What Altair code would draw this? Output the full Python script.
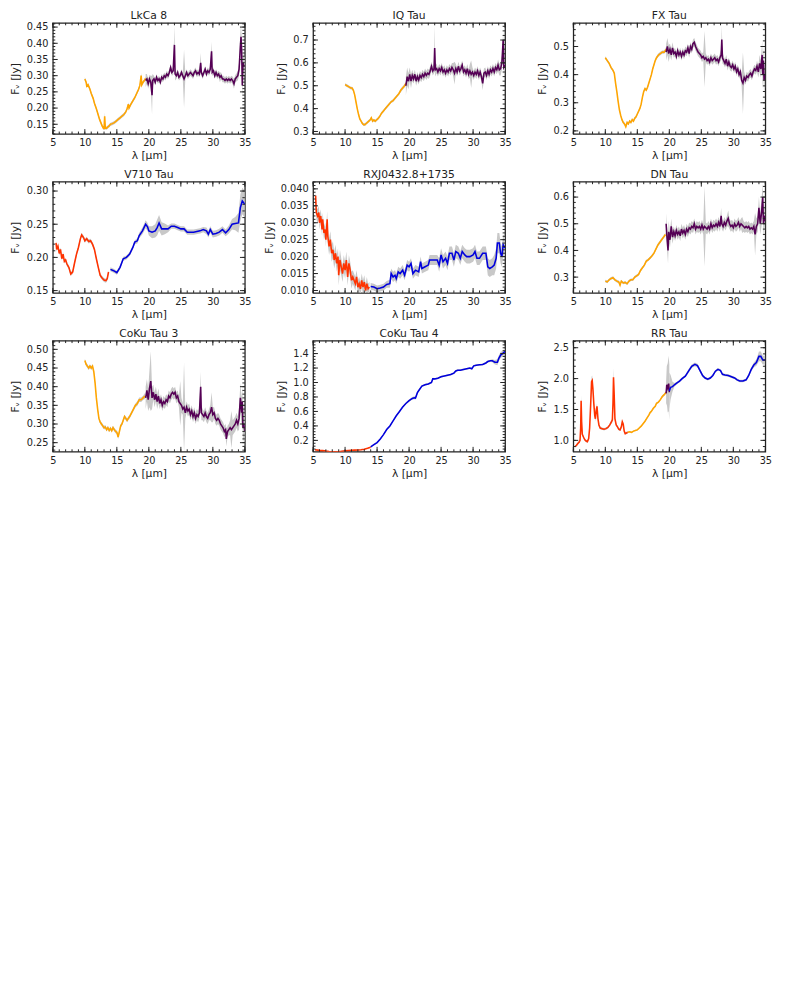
import altair as alt
import numpy as np
import pandas as pd

# ---------------- data: (wavelength um, flux Jy, 1-sigma) ----------------
LKCA8_SL1 = [(10.0,.290,.005),(10.2,.280,.005),(10.3,.268,.005),(10.5,.272,.005),(10.8,.258,.005),(11.0,.245,.005),
    (11.3,.230,.005),(11.5,.215,.005),(11.8,.198,.005),(12.0,.185,.005),(12.3,.165,.005),(12.5,.155,.005),(12.7,.145,.005),
    (12.9,.138,.005),(13.0,.137,.005),(13.1,.175,.012),(13.2,.138,.005),(13.4,.138,.005),(13.6,.142,.005),(13.8,.145,.005),
    (14.0,.150,.005),(14.3,.152,.005),(14.6,.155,.005),(14.9,.160,.005),(15.2,.165,.005),(15.5,.170,.005),(15.8,.175,.005),
    (16.1,.180,.005),(16.4,.188,.005),(16.6,.198,.005),(16.8,.212,.005),(16.9,.200,.005),(17.2,.212,.005),(17.5,.222,.005),
    (17.8,.232,.005),(18.1,.245,.005),(18.4,.258,.005),(18.6,.270,.005),(18.8,.300,.008),(18.9,.272,.005),(19.1,.280,.005),
    (19.3,.285,.005),(19.5,.292,.005)]
LKCA8_LH = [(19.5,.285,.02),(19.7,.290,.015),(19.9,.275,.015),(20.1,.290,.012),(20.3,.280,.02),(20.5,.240,.06),(20.6,.285,.02),
    (20.8,.290,.01),(21.0,.280,.01),(21.2,.295,.01),(21.4,.285,.01),(21.6,.290,.01),(21.8,.280,.01),(22.0,.295,.01),
    (22.2,.290,.01),(22.4,.300,.01),(22.6,.295,.01),(22.8,.305,.01),(23.0,.300,.01),(23.2,.310,.01),(23.4,.325,.012),
    (23.6,.310,.01),(23.8,.315,.012),(24.0,.395,.06),(24.1,.305,.02),(24.3,.300,.01),(24.5,.310,.01),(24.7,.295,.01),
    (24.9,.300,.01),(25.1,.310,.01),(25.3,.300,.01),(25.5,.290,.09),(25.7,.300,.01),(25.9,.310,.01),(26.1,.300,.01),
    (26.3,.305,.01),(26.5,.310,.01),(26.7,.305,.01),(26.9,.300,.01),(27.1,.310,.01),(27.3,.315,.01),(27.5,.305,.01),
    (27.7,.310,.01),(27.9,.305,.01),(28.1,.340,.03),(28.2,.310,.01),(28.4,.300,.01),(28.6,.310,.01),(28.8,.320,.01),
    (29.0,.305,.01),(29.2,.315,.01),(29.4,.310,.01),(29.6,.320,.012),(29.8,.375,.03),(29.9,.310,.012),(30.1,.315,.01),
    (30.3,.300,.01),(30.5,.310,.01),(30.7,.300,.01),(30.9,.305,.01),(31.1,.295,.015),(31.3,.300,.01),(31.5,.290,.01),
    (31.7,.290,.01),(31.9,.285,.01),(32.1,.290,.01),(32.3,.285,.01),(32.5,.290,.01),(32.7,.285,.01),(32.9,.290,.01),
    (33.1,.285,.012),(33.3,.275,.015),(33.5,.290,.012),(33.7,.295,.012),(33.9,.300,.015),(34.1,.320,.02),(34.3,.390,.04),
    (34.4,.420,.04),(34.5,.380,.04),(34.6,.270,.04),(34.7,.340,.03),(34.85,.330,.03),(35.0,.330,.03)]

IQ_SL1 = [(10.0,.505,.006),(10.3,.500,.006),(10.6,.495,.006),(10.9,.490,.006),(11.1,.490,.006),(11.3,.480,.006),(11.5,.460,.006),
    (11.7,.430,.006),(11.9,.400,.006),(12.1,.375,.006),(12.3,.355,.006),(12.5,.345,.006),(12.7,.335,.006),(12.9,.330,.006),
    (13.1,.330,.006),(13.3,.335,.006),(13.5,.340,.006),(13.7,.345,.006),(13.9,.350,.006),(14.1,.360,.006),(14.3,.345,.006),
    (14.5,.350,.006),(14.7,.345,.006),(14.9,.350,.006),(15.1,.355,.006),(15.4,.365,.006),(15.7,.380,.006),(16.0,.390,.006),
    (16.3,.400,.006),(16.6,.410,.006),(16.9,.420,.006),(17.2,.430,.006),(17.5,.435,.006),(17.8,.445,.006),(18.1,.455,.006),
    (18.4,.465,.006),(18.7,.480,.008),(19.0,.490,.008),(19.3,.500,.008),(19.5,.510,.008)]
IQ_LH = [(19.5,.500,.04),(19.7,.540,.04),(19.9,.520,.035),(20.1,.550,.03),(20.3,.520,.03),(20.5,.545,.025),(20.7,.530,.02),
    (20.9,.550,.02),(21.1,.520,.02),(21.3,.540,.02),(21.5,.525,.02),(21.7,.545,.02),(21.9,.535,.02),(22.1,.550,.02),
    (22.3,.540,.02),(22.5,.555,.02),(22.7,.545,.02),(22.9,.555,.02),(23.1,.550,.02),(23.3,.565,.02),(23.5,.585,.02),
    (23.7,.565,.02),(23.9,.575,.02),(24.0,.665,.1),(24.1,.570,.03),(24.3,.575,.02),(24.5,.560,.02),(24.7,.575,.02),
    (24.9,.565,.02),(25.1,.580,.02),(25.3,.560,.02),(25.5,.570,.02),(25.7,.555,.02),(25.9,.570,.02),(26.1,.560,.02),
    (26.3,.575,.02),(26.5,.565,.02),(26.7,.580,.02),(26.9,.570,.03),(27.1,.555,.05),(27.3,.575,.02),(27.5,.560,.02),
    (27.7,.585,.02),(27.9,.565,.02),(28.1,.575,.02),(28.3,.590,.02),(28.5,.560,.02),(28.7,.570,.02),(28.9,.555,.02),
    (29.1,.575,.02),(29.3,.550,.02),(29.5,.565,.03),(29.7,.550,.06),(29.9,.560,.02),(30.1,.545,.02),(30.3,.560,.02),
    (30.5,.550,.02),(30.7,.565,.02),(30.9,.545,.02),(31.1,.560,.02),(31.3,.540,.02),(31.5,.510,.03),(31.7,.555,.02),
    (31.9,.560,.02),(32.1,.545,.02),(32.3,.565,.02),(32.5,.550,.02),(32.7,.570,.02),(32.9,.560,.02),(33.1,.575,.02),
    (33.3,.560,.02),(33.5,.580,.02),(33.7,.570,.02),(33.9,.590,.025),(34.1,.570,.025),(34.3,.575,.03),(34.5,.600,.03),
    (34.7,.700,.04),(34.8,.580,.03),(35.0,.590,.03)]

FX_SL1 = [(10.0,.460,.005),(10.3,.450,.005),(10.6,.440,.005),(10.9,.425,.005),(11.2,.415,.005),(11.4,.405,.005),(11.6,.370,.005),
    (11.8,.340,.005),(12.0,.305,.005),(12.2,.275,.005),(12.4,.255,.005),(12.6,.240,.005),(12.8,.230,.005),(13.0,.225,.005),
    (13.2,.215,.005),(13.4,.230,.005),(13.6,.225,.005),(13.8,.235,.005),(14.0,.230,.005),(14.2,.240,.005),(14.4,.235,.005),
    (14.6,.245,.005),(14.8,.250,.005),(15.0,.260,.005),(15.2,.270,.005),(15.4,.280,.005),(15.6,.295,.005),(15.8,.320,.005),
    (16.0,.340,.005),(16.2,.350,.005),(16.4,.345,.005),(16.6,.355,.005),(16.8,.370,.005),(17.0,.385,.005),(17.2,.400,.005),
    (17.4,.420,.005),(17.6,.435,.005),(17.8,.450,.005),(18.0,.460,.005),(18.3,.470,.006),(18.6,.475,.006),(18.9,.480,.006),
    (19.2,.480,.006),(19.5,.490,.008)]
FX_LH = [(19.5,.480,.03),(19.7,.500,.03),(19.9,.475,.03),(20.1,.490,.02),(20.3,.470,.02),(20.5,.495,.02),(20.7,.475,.015),
    (20.9,.480,.015),(21.1,.465,.015),(21.3,.485,.015),(21.5,.470,.015),(21.7,.480,.015),(21.9,.465,.015),(22.1,.480,.015),
    (22.3,.470,.015),(22.5,.485,.015),(22.7,.480,.015),(22.9,.495,.015),(23.1,.475,.015),(23.3,.500,.015),(23.5,.490,.015),
    (23.7,.510,.015),(23.9,.515,.015),(24.1,.500,.015),(24.3,.490,.015),(24.5,.480,.015),(24.7,.475,.015),(24.9,.470,.015),
    (25.1,.460,.015),(25.3,.465,.015),(25.5,.455,.1),(25.7,.460,.015),(25.9,.450,.015),(26.1,.455,.015),(26.3,.445,.015),
    (26.5,.460,.015),(26.7,.450,.015),(26.9,.455,.015),(27.1,.460,.015),(27.3,.450,.015),(27.5,.455,.015),(27.7,.445,.015),
    (27.9,.460,.015),(28.1,.470,.02),(28.2,.525,.05),(28.3,.460,.02),(28.5,.450,.015),(28.7,.440,.015),(28.9,.455,.015),
    (29.1,.430,.015),(29.3,.445,.015),(29.5,.430,.015),(29.7,.425,.015),(29.9,.435,.015),(30.1,.420,.015),(30.3,.430,.015),
    (30.5,.410,.015),(30.7,.420,.015),(30.9,.400,.015),(31.1,.410,.015),(31.3,.380,.02),(31.5,.370,.11),(31.7,.390,.02),
    (31.9,.380,.015),(32.1,.395,.015),(32.3,.390,.015),(32.5,.400,.015),(32.7,.405,.015),(32.9,.395,.015),(33.1,.410,.015),
    (33.3,.420,.015),(33.5,.415,.015),(33.7,.430,.02),(33.9,.410,.02),(34.1,.440,.03),(34.3,.420,.03),(34.5,.470,.05),
    (34.6,.400,.05),(34.7,.450,.05),(34.8,.380,.05),(34.9,.400,.04),(35.0,.390,.04)]

V710_SL2 = [(5.5,.222,.003),(5.6,.212,.003),(5.8,.217,.003),(6.0,.206,.003),(6.2,.212,.003),(6.4,.198,.003),(6.6,.205,.003),
    (6.8,.194,.003),(7.0,.196,.003),(7.2,.190,.003),(7.5,.185,.003),(7.8,.175,.003),(8.1,.178,.003),(8.4,.192,.003),
    (8.7,.205,.003),(9.0,.215,.003),(9.3,.228,.003),(9.5,.234,.003),(9.8,.230,.003),(10.0,.225,.003),(10.3,.228,.003),
    (10.6,.224,.003),(10.9,.225,.003),(11.2,.220,.003),(11.5,.212,.003),(11.8,.198,.003),(12.1,.185,.003),(12.4,.173,.003),
    (12.7,.169,.003),(13.0,.166,.003),(13.3,.165,.003),(13.5,.168,.003),(13.7,.178,.003)]
V710_LL = [(14.0,.182,.003),(14.5,.180,.003),(15.0,.177,.003),(15.5,.185,.003),(16.0,.198,.003),(16.5,.200,.003),(17.0,.205,.003),
    (17.5,.215,.003),(17.8,.223,.003),(18.2,.225,.004),(18.5,.233,.004),(19.0,.240,.005),(19.5,.250,.006),(19.8,.246,.006),
    (20.0,.240,.007),(20.5,.238,.009),(21.0,.240,.01),(21.3,.245,.012),(21.6,.252,.012),(22.0,.243,.01),(22.5,.243,.008),
    (23.0,.243,.005),(23.5,.247,.004),(24.0,.247,.004),(24.5,.245,.004),(25.0,.243,.004),(25.5,.243,.004),(26.0,.238,.004),
    (27.0,.238,.004),(28.0,.240,.004),(28.5,.242,.004),(29.0,.240,.005),(29.3,.235,.005),(29.6,.242,.005),(30.0,.235,.005),
    (30.5,.236,.005),(31.0,.238,.005),(31.5,.242,.005),(32.0,.237,.005),(32.5,.242,.006),(33.0,.250,.008),(33.5,.251,.01),
    (34.0,.252,.015),(34.3,.275,.02),(34.6,.285,.02),(35.0,.280,.02)]

RXJ_SL2 = [(5.4,.0380,.002),(5.5,.0330,.002),(5.7,.0320,.002),(5.9,.0330,.002),(6.0,.0300,.002),(6.2,.0320,.002),(6.4,.0280,.002),
    (6.5,.0310,.002),(6.7,.0270,.002),(6.9,.0280,.002),(7.0,.0250,.002),(7.2,.0310,.0025),(7.3,.0260,.0025),(7.5,.0230,.0025),
    (7.7,.0250,.0025),(7.9,.0210,.0025),(8.1,.0220,.0025),(8.3,.0190,.0025),(8.5,.0210,.0025),(8.7,.0180,.0025),
    (8.9,.0200,.0025),(9.0,.0145,.003),(9.2,.0190,.003),(9.4,.0170,.0025),(9.6,.0150,.0025),(9.8,.0180,.0025),
    (10.0,.0160,.0025),(10.2,.0190,.0025),(10.4,.0140,.0025),(10.6,.0180,.0025),(10.8,.0160,.0025),(11.0,.0130,.0025),
    (11.2,.0140,.002),(11.4,.0130,.002),(11.6,.0120,.002),(11.8,.0140,.002),(12.0,.0110,.002),(12.2,.0120,.002),
    (12.4,.0105,.002),(12.6,.0130,.002),(12.8,.0110,.002),(13.0,.0125,.002),(13.2,.0100,.002),(13.4,.0120,.002),
    (13.6,.0105,.0015),(13.8,.0110,.0015)]
RXJ_LL = [(14.0,.0112,.001),(14.5,.0110,.001),(15.0,.0105,.001),(15.5,.0107,.001),(16.0,.0110,.001),(16.5,.0118,.001),
    (17.0,.0120,.0012),(17.2,.0150,.0015),(17.5,.0140,.0015),(17.8,.0145,.0015),(18.0,.0135,.0015),(18.3,.0155,.0015),
    (18.6,.0150,.0015),(19.0,.0160,.0015),(19.3,.0145,.0015),(19.7,.0175,.0015),(20.0,.0170,.0015),(20.3,.0180,.0015),
    (20.6,.0150,.0015),(21.0,.0160,.0015),(21.5,.0155,.0015),(21.8,.0185,.0015),(22.0,.0165,.0015),(22.5,.0170,.0015),
    (23.0,.0175,.0015),(23.2,.0190,.0015),(23.6,.0190,.0015),(24.0,.0190,.0015),(24.4,.0190,.0015),(24.7,.0175,.002),
    (25.0,.0205,.002),(25.3,.0185,.002),(25.7,.0195,.002),(26.0,.0180,.002),(26.3,.0210,.002),(26.7,.0210,.002),
    (27.0,.0190,.002),(27.3,.0215,.002),(27.7,.0210,.002),(28.0,.0195,.002),(28.3,.0215,.002),(28.7,.0205,.002),
    (29.0,.0200,.002),(29.5,.0200,.002),(30.0,.0205,.002),(30.3,.0215,.002),(30.6,.0195,.002),(31.0,.0195,.002),
    (31.5,.0210,.002),(32.0,.0210,.002),(32.3,.0170,.0025),(32.6,.0165,.0025),(33.0,.0170,.0025),(33.3,.0175,.003),
    (33.6,.0195,.003),(33.8,.0240,.003),(34.1,.0240,.003),(34.3,.0210,.003),(34.5,.0200,.003),(34.7,.0235,.003),
    (35.0,.0225,.003)]

DN_SL1 = [(10.0,.285,.005),(10.3,.282,.005),(10.6,.290,.005),(10.9,.295,.005),(11.2,.298,.005),(11.5,.290,.005),(11.8,.285,.005),
    (12.1,.282,.005),(12.3,.270,.005),(12.5,.285,.005),(12.8,.278,.005),(13.1,.280,.005),(13.4,.275,.005),(13.7,.285,.005),
    (14.0,.290,.005),(14.3,.290,.005),(14.6,.300,.005),(14.9,.305,.005),(15.2,.310,.005),(15.5,.325,.005),(15.8,.335,.005),
    (16.1,.345,.005),(16.4,.360,.005),(16.7,.365,.005),(17.0,.372,.005),(17.3,.380,.005),(17.6,.390,.005),(17.9,.405,.005),
    (18.2,.420,.006),(18.5,.430,.006),(18.8,.440,.006),(19.1,.450,.006),(19.4,.460,.006)]
DN_LH = [(19.5,.500,.04),(19.6,.460,.04),(19.8,.400,.05),(19.9,.470,.04),(20.1,.440,.03),(20.3,.490,.03),(20.5,.450,.025),
    (20.7,.470,.02),(20.9,.455,.02),(21.1,.475,.02),(21.3,.460,.02),(21.5,.470,.02),(21.7,.455,.02),(21.9,.480,.02),
    (22.1,.465,.02),(22.3,.475,.02),(22.5,.460,.02),(22.7,.480,.02),(22.9,.470,.02),(23.1,.485,.02),(23.3,.480,.02),
    (23.5,.490,.02),(23.7,.485,.02),(23.9,.500,.02),(24.1,.480,.02),(24.3,.490,.02),(24.5,.485,.02),(24.7,.490,.02),
    (24.9,.480,.02),(25.1,.495,.02),(25.3,.480,.02),(25.5,.490,.15),(25.7,.485,.02),(25.9,.480,.02),(26.1,.490,.02),
    (26.3,.480,.02),(26.5,.500,.02),(26.7,.485,.02),(26.9,.495,.02),(27.1,.490,.02),(27.3,.500,.02),(27.5,.490,.02),
    (27.7,.505,.02),(27.9,.490,.02),(28.1,.530,.03),(28.2,.500,.02),(28.4,.490,.02),(28.6,.505,.02),(28.8,.495,.02),
    (29.0,.510,.02),(29.2,.520,.03),(29.4,.500,.02),(29.6,.490,.02),(29.8,.495,.02),(30.0,.485,.02),(30.2,.500,.02),
    (30.4,.490,.02),(30.6,.495,.02),(30.8,.505,.02),(31.0,.490,.02),(31.2,.500,.02),(31.4,.495,.03),(31.6,.490,.02),
    (31.8,.485,.02),(32.0,.490,.02),(32.2,.485,.02),(32.4,.490,.02),(32.6,.480,.02),(32.8,.485,.02),(33.0,.480,.02),
    (33.2,.490,.02),(33.4,.460,.08),(33.6,.490,.03),(33.8,.500,.03),(34.0,.560,.04),(34.2,.500,.04),(34.4,.540,.05),
    (34.6,.600,.05),(34.7,.500,.05),(34.85,.530,.04),(35.0,.510,.04)]

COKU3_SL1 = [(10.0,.470,.005),(10.2,.460,.005),(10.4,.455,.005),(10.6,.450,.005),(10.8,.455,.005),(11.0,.450,.005),(11.2,.455,.005),
    (11.4,.440,.005),(11.6,.410,.005),(11.8,.370,.005),(12.0,.340,.005),(12.2,.315,.005),(12.4,.305,.005),(12.6,.300,.005),
    (12.8,.295,.005),(13.0,.290,.005),(13.2,.292,.005),(13.4,.285,.005),(13.6,.290,.005),(13.8,.283,.005),(14.0,.288,.005),
    (14.2,.282,.005),(14.4,.290,.005),(14.6,.285,.005),(14.8,.280,.005),(15.0,.278,.005),(15.2,.265,.005),(15.4,.280,.005),
    (15.6,.295,.005),(15.8,.300,.005),(16.0,.310,.005),(16.2,.320,.005),(16.4,.315,.005),(16.6,.310,.005),(16.8,.315,.005),
    (17.0,.320,.005),(17.3,.330,.005),(17.6,.340,.005),(17.9,.350,.005),(18.2,.355,.006),(18.5,.365,.006),(18.8,.365,.006),
    (19.1,.370,.006),(19.4,.375,.008)]
COKU3_LH = [(19.5,.370,.03),(19.7,.390,.03),(19.9,.365,.03),(20.1,.395,.05),(20.3,.415,.08),(20.5,.370,.03),(20.7,.385,.02),
    (20.9,.365,.02),(21.1,.380,.02),(21.3,.360,.02),(21.5,.375,.02),(21.7,.355,.015),(21.9,.365,.015),(22.1,.350,.015),
    (22.3,.360,.015),(22.5,.355,.015),(22.7,.365,.015),(22.9,.360,.015),(23.1,.375,.015),(23.3,.370,.015),(23.5,.380,.015),
    (23.7,.385,.015),(23.9,.380,.015),(24.1,.385,.015),(24.3,.370,.015),(24.5,.375,.015),(24.7,.360,.015),(24.9,.355,.06),
    (25.1,.350,.02),(25.3,.340,.015),(25.5,.345,.12),(25.7,.330,.015),(25.9,.345,.015),(26.1,.335,.015),(26.3,.340,.015),
    (26.5,.325,.015),(26.7,.335,.015),(26.9,.320,.015),(27.1,.330,.015),(27.3,.315,.015),(27.5,.325,.015),(27.7,.320,.015),
    (27.9,.330,.015),(28.1,.400,.04),(28.2,.330,.02),(28.4,.325,.015),(28.6,.320,.015),(28.8,.330,.015),(29.0,.320,.015),
    (29.2,.315,.015),(29.4,.325,.015),(29.6,.330,.02),(29.8,.345,.04),(30.0,.325,.02),(30.2,.330,.015),(30.4,.315,.015),
    (30.6,.310,.015),(30.8,.315,.015),(31.0,.310,.015),(31.2,.300,.015),(31.4,.295,.015),(31.6,.290,.015),(31.8,.280,.015),
    (32.0,.285,.015),(32.1,.260,.02),(32.3,.280,.015),(32.5,.285,.015),(32.7,.290,.02),(32.9,.285,.05),(33.1,.290,.02),
    (33.3,.295,.02),(33.5,.300,.02),(33.7,.310,.02),(33.9,.300,.02),(34.1,.315,.03),(34.3,.370,.04),(34.5,.330,.04),
    (34.6,.360,.04),(34.7,.290,.04),(34.85,.300,.04),(35.0,.280,.04)]

COKU4_SL2 = [(5.3,.070,.005),(6.0,.062,.005),(6.5,.058,.005),(7.0,.052,.005),(7.5,.047,.005),(8.0,.043,.005),(8.5,.042,.005),
    (9.0,.044,.005),(9.5,.050,.005),(10.0,.056,.005),(10.5,.060,.005),(11.0,.063,.005),(11.5,.065,.005),(12.0,.066,.005),
    (12.5,.070,.005),(13.0,.078,.005),(13.5,.090,.005),(14.0,.105,.005)]
COKU4_LL = [(14.0,.110,.01),(14.5,.140,.01),(15.0,.170,.01),(15.5,.220,.01),(16.0,.280,.01),(16.5,.350,.01),(17.0,.400,.01),
    (17.5,.470,.01),(18.0,.540,.01),(18.5,.600,.01),(19.0,.660,.012),(19.5,.710,.012),(20.0,.750,.015),(20.5,.780,.02),
    (20.8,.790,.02),(21.0,.785,.02),(21.3,.860,.02),(21.6,.900,.015),(22.0,.950,.012),(22.5,.970,.012),(23.0,.980,.012),
    (23.5,1.000,.015),(23.7,1.050,.015),(24.0,1.050,.012),(24.5,1.060,.012),(25.0,1.080,.012),(25.5,1.090,.012),
    (26.0,1.100,.012),(26.5,1.110,.012),(27.0,1.130,.012),(27.3,1.160,.012),(27.6,1.170,.012),(28.0,1.170,.012),
    (28.5,1.180,.012),(29.0,1.190,.012),(29.5,1.200,.012),(29.8,1.190,.012),(30.1,1.230,.012),(30.5,1.240,.012),
    (31.0,1.245,.012),(31.5,1.250,.012),(32.0,1.270,.015),(32.3,1.290,.015),(32.7,1.300,.015),(33.0,1.300,.02),
    (33.4,1.280,.03),(33.8,1.280,.04),(34.0,1.330,.04),(34.3,1.380,.04),(34.6,1.400,.04),(35.0,1.430,.04)]

RR_SL2 = [(5.3,.90,.02),(5.5,.92,.02),(5.7,.95,.02),(5.9,.97,.02),(6.05,1.00,.03),(6.15,1.20,.05),(6.22,1.64,.1),(6.3,1.30,.05),
    (6.4,1.10,.03),(6.6,1.05,.02),(6.8,1.01,.02),(7.0,.99,.02),(7.2,.98,.02),(7.4,1.03,.02),(7.55,1.20,.04),(7.7,1.55,.06),
    (7.85,1.95,.08),(7.95,1.97,.08),(8.05,1.85,.06),(8.2,1.60,.05),(8.35,1.40,.04),(8.45,1.35,.04),(8.6,1.50,.05),(8.7,1.55,.05),
    (8.85,1.35,.04),(9.0,1.25,.03),(9.2,1.20,.02),(9.5,1.19,.02),(9.8,1.18,.02),(10.1,1.19,.02),(10.4,1.21,.02),(10.7,1.25,.02),
    (10.95,1.30,.03),(11.1,1.33,.04),(11.2,1.60,.1),(11.28,2.02,.15),(11.38,1.75,.1),(11.5,1.35,.04),(11.7,1.25,.02),
    (11.9,1.22,.02),(12.1,1.18,.02),(12.3,1.17,.02),(12.5,1.22,.03),(12.65,1.30,.03),(12.8,1.26,.03),(12.95,1.15,.02),
    (13.1,1.11,.02),(13.3,1.12,.02),(13.5,1.13,.02)]
RR_SL1 = [(13.5,1.13,.01),(13.8,1.14,.01),(14.1,1.13,.01),(14.4,1.15,.01),(14.7,1.16,.01),(15.0,1.17,.01),(15.3,1.20,.01),
    (15.6,1.23,.01),(15.9,1.27,.01),(16.2,1.31,.015),(16.5,1.36,.015),(16.8,1.41,.015),(17.0,1.45,.015),(17.2,1.47,.015),
    (17.5,1.52,.015),(17.8,1.55,.015),(18.0,1.60,.015),(18.3,1.62,.015),(18.6,1.66,.015),(18.9,1.71,.02),(19.2,1.74,.02),
    (19.5,1.78,.02)]
RR_LH = [(19.5,1.76,.2),(19.6,1.90,.3),(19.75,1.85,.4),(19.9,1.92,.45),(20.0,1.78,.45)]
RR_LL = [(20.0,1.80,.3),(20.2,1.86,.2),(20.5,1.87,.08),(20.8,1.90,.03),(21.2,1.93,.02),(21.6,1.96,.02),(22.0,2.00,.02),
    (22.5,2.04,.02),(23.0,2.12,.03),(23.5,2.20,.03),(24.0,2.23,.03),(24.4,2.21,.03),(24.8,2.13,.03),(25.2,2.05,.03),
    (25.6,2.01,.02),(26.0,1.99,.02),(26.4,2.01,.02),(26.8,2.05,.02),(27.2,2.12,.02),(27.6,2.15,.02),(28.0,2.13,.02),
    (28.3,2.07,.02),(28.7,2.06,.02),(29.2,2.05,.02),(29.7,2.03,.02),(30.2,2.01,.02),(30.6,1.98,.02),(31.0,1.96,.02),
    (31.5,1.96,.02),(32.0,1.98,.02),(32.4,2.05,.03),(32.8,2.15,.03),(33.2,2.22,.04),(33.6,2.26,.05),(34.0,2.36,.08),
    (34.3,2.36,.08),(34.6,2.30,.07),(35.0,2.30,.07)]

NAMES = ["LkCa 8", "IQ Tau", "FX Tau", "V710 Tau", "RXJ0432.8+1735", "DN Tau", "CoKu Tau 3", "CoKu Tau 4", "RR Tau"]
SEGMENTS = [
    [("SL1", LKCA8_SL1), ("LH", LKCA8_LH)],
    [("SL1", IQ_SL1), ("LH", IQ_LH)],
    [("SL1", FX_SL1), ("LH", FX_LH)],
    [("SL2", V710_SL2), ("LL", V710_LL)],
    [("SL2", RXJ_SL2), ("LL", RXJ_LL)],
    [("SL1", DN_SL1), ("LH", DN_LH)],
    [("SL1", COKU3_SL1), ("LH", COKU3_LH)],
    [("SL2", COKU4_SL2), ("LL", COKU4_LL)],
    [("SL2", RR_SL2), ("SL1", RR_SL1), ("LH", RR_LH), ("LL", RR_LL)],
]
Y_DOMAINS = [[0.120, 0.463], [0.289, 0.775], [0.189, 0.584], [0.1466, 0.314], [0.0093, 0.0421],
             [0.241, 0.6575], [0.2257, 0.5234], [0.043, 1.579], [0.816, 2.615]]
Y_TICKS = [[0.15, 0.20, 0.25, 0.30, 0.35, 0.40, 0.45], [0.3, 0.4, 0.5, 0.6, 0.7], [0.2, 0.3, 0.4, 0.5],
           [0.15, 0.20, 0.25, 0.30], [0.010, 0.015, 0.020, 0.025, 0.030, 0.035, 0.040], [0.3, 0.4, 0.5, 0.6],
           [0.25, 0.30, 0.35, 0.40, 0.45, 0.50], [0.2, 0.4, 0.6, 0.8, 1.0, 1.2, 1.4], [1.0, 1.5, 2.0, 2.5]]
Y_MINOR_STEP = [0.01, 0.02, 0.02, 0.01, 0.001, 0.02, 0.01, 0.04, 0.1]
Y_FORMAT = [".2f", ".1f", ".1f", ".2f", ".3f", ".1f", ".2f", ".1f", ".1f"]
X_TICKS = [5, 10, 15, 20, 25, 30, 35]
X_MINOR = list(range(5, 36))

SEG_KEYS = ["SL2", "SL1", "LH", "LL"]
SEG_COLORS = ["#ff3300", "#ffa500", "#550055", "#0000dd"]

FONT = "DejaVu Sans"
INK = "#222222"
W, H = 197, 114
MAJ, MIN = 5, 2.5


def panel(i):
    rows = []
    for seg, pts in SEGMENTS[i]:
        for x, y, e in pts:
            rows.append({"seg": seg, "x": x, "y": y, "lo": y - e, "hi": y + e})
    df = pd.DataFrame(rows)
    xs = alt.Scale(domain=[5, 35], nice=False, zero=False)
    ys = alt.Scale(domain=Y_DOMAINS[i], nice=False, zero=False)
    xax = alt.Axis(values=X_TICKS, title="λ [μm]", ticks=False, domain=False, grid=False, labelFlush=False,
                   labelOverlap=False, labelPadding=4, titlePadding=2)
    yax = alt.Axis(values=Y_TICKS[i], format=Y_FORMAT[i], title="Fᵥ [Jy]", ticks=False, domain=False, grid=False,
                   labelOverlap=False, labelPadding=5, titlePadding=6)

    band = alt.Chart(df).mark_area(color="#c8c8c8", clip=True).encode(
        x=alt.X("x:Q", scale=xs, axis=xax),
        y=alt.Y("lo:Q", scale=ys, axis=yax),
        y2="hi:Q",
        detail="seg:N",
    )
    line = alt.Chart(df).mark_line(strokeWidth=1.6, clip=True).encode(
        x=alt.X("x:Q", scale=xs, axis=xax),
        y=alt.Y("y:Q", scale=ys, axis=yax),
        color=alt.Color("seg:N", scale=alt.Scale(domain=SEG_KEYS, range=SEG_COLORS), legend=None),
        detail="seg:N",
    )
    layers = [band, line]

    lo, hi = Y_DOMAINS[i]
    st = Y_MINOR_STEP[i]
    yminor = [round(k * st, 6) for k in range(int(np.ceil(lo / st - 1e-9)), int(np.floor(hi / st + 1e-9)) + 1)]
    for vals, ln in ((X_TICKS, MAJ), (X_MINOR, MIN)):
        tdf = pd.DataFrame({"v": vals})
        base = alt.Chart(tdf).mark_rule(color=INK, strokeWidth=1)
        layers.append(base.encode(x=alt.X("v:Q", scale=xs, axis=xax), y=alt.value(H), y2=alt.value(H - ln)))
        layers.append(base.encode(x=alt.X("v:Q", scale=xs, axis=xax), y=alt.value(0), y2=alt.value(ln)))
    for vals, ln in ((Y_TICKS[i], MAJ), (yminor, MIN)):
        tdf = pd.DataFrame({"v": vals})
        base = alt.Chart(tdf).mark_rule(color=INK, strokeWidth=1)
        layers.append(base.encode(y=alt.Y("v:Q", scale=ys, axis=yax), x=alt.value(0), x2=alt.value(ln)))
        layers.append(base.encode(y=alt.Y("v:Q", scale=ys, axis=yax), x=alt.value(W), x2=alt.value(W - ln)))

    return alt.layer(*layers).properties(
        width=W, height=H,
        title=alt.TitleParams(NAMES[i], fontSize=11, font=FONT, fontWeight="normal", color=INK, offset=1),
    )


chart = alt.concat(*[panel(i) for i in range(9)], columns=3, spacing={"row": 49, "column": 70}, bounds="flush").properties(
    padding={"left": 1, "top": -5, "right": 5, "bottom": 5}
).configure_view(stroke=INK, strokeWidth=1.3).configure_axis(
    labelFont=FONT, labelFontSize=10, labelColor=INK, titleFont=FONT, titleFontSize=11, titleColor=INK,
    titleFontWeight="normal",
)

chart.save("out.html", embed_options={"renderer": "svg", "actions": False})
